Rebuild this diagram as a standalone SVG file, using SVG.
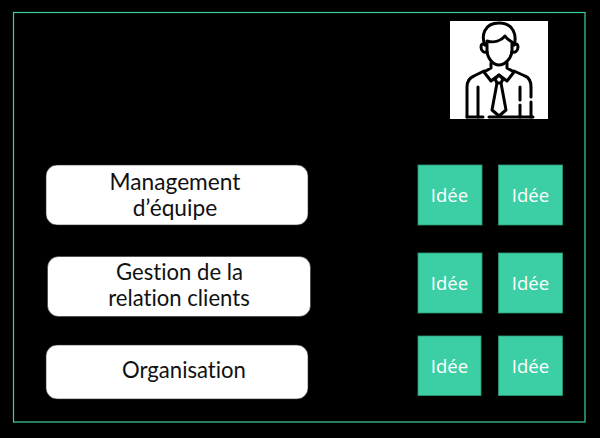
<svg xmlns="http://www.w3.org/2000/svg" width="600" height="438" viewBox="0 0 600 438">
<style>
.box{fill:#fff;stroke:#333;stroke-width:.6}
.idea{fill:#3ccfa5;stroke:#2a9878;stroke-width:.8}
.lab{font-family:"Lato","Open Sans",sans-serif;font-size:22.700px;fill:#111;text-anchor:middle;font-variant-ligatures:none}
.lab2{font-size:22.100px}
.idt{font-family:"Open Sans",sans-serif;font-size:18.500px;fill:#fff;text-anchor:middle}
.ic{fill:none;stroke:#000;stroke-width:3;stroke-linecap:round;stroke-linejoin:round}
</style>
<rect width="600" height="438" fill="#000"/>
<rect x="13.500" y="12.500" width="571.500" height="409.500" fill="none" stroke="#3ccfa5" stroke-width="1.200"/>
<g id="person">
<rect x="450" y="21" width="98" height="98" fill="#fff"/>
<path class="ic" d="M485 45C481 36 484 23 499 23C514 23 517 36 514 45"/>
<path class="ic" d="M485 45C483 43 481 44 481 47C481 51 484 53 487 52M514 45C516 43 518 44 518 47C518 51 515 53 512 52"/>
<path class="ic" d="M487 41C494 43 501 41 505 36C507 39 510 41 512 42V50C512 58 505 65 499 65C493 65 487 58 487 50Z"/>
<path class="ic" d="M491 63V68L484 72L491 81L499 75L507 81L514 72L507 68V63"/>
<path class="ic" d="M484 71L474 76C469 78 467 82 467 87V117M514 71L525 76C530 78 531 82 531 87V97M531 102V117"/>
<path class="ic" d="M478 87V117M520 87V100M520 105V117"/>
<path class="ic" d="M499 75L495 79L497 83L492 110L499 116L506 110L501 83L503 79Z"/>
<path class="ic" d="M497 83H501M467 117H483M489 117H533"/>
</g>
<g id="node-management">
<rect class="box" x="46" y="165" width="262" height="60" rx="11"/>
<text class="lab" x="175" y="190">Management</text>
<text class="lab" x="175" y="216">d’équipe</text>
</g>
<g id="node-gestion">
<rect class="box" x="47.500" y="256.500" width="263" height="60" rx="11"/>
<text class="lab lab2" x="179.500" y="280">Gestion de la</text>
<text class="lab lab2" x="179" y="306">relation clients</text>
</g>
<g id="node-organisation">
<rect class="box" x="46" y="345" width="262" height="54" rx="11"/>
<text class="lab lab2" x="184" y="378">Organisation</text>
</g>
<g id="idea-1"><rect class="idea" x="418" y="165" width="64" height="60"/><text class="idt" x="449.500" y="202">Idée</text></g>
<g id="idea-2"><rect class="idea" x="498.500" y="165" width="64" height="60"/><text class="idt" x="530.500" y="202">Idée</text></g>
<g id="idea-3"><rect class="idea" x="418" y="253" width="64" height="60"/><text class="idt" x="449.500" y="290">Idée</text></g>
<g id="idea-4"><rect class="idea" x="498.500" y="253" width="64" height="60"/><text class="idt" x="530.500" y="290">Idée</text></g>
<g id="idea-5"><rect class="idea" x="418" y="336" width="63" height="59.500"/><text class="idt" x="449.500" y="373">Idée</text></g>
<g id="idea-6"><rect class="idea" x="498.500" y="336" width="64" height="59.500"/><text class="idt" x="530.500" y="373">Idée</text></g>
<g id="connectors"></g>
</svg>
